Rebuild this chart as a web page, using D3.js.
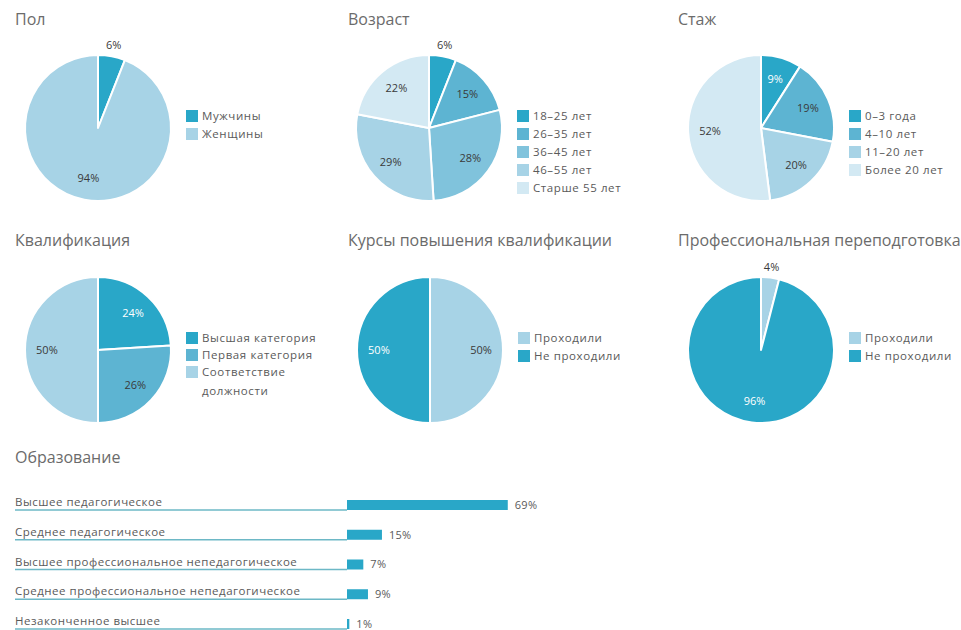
<!DOCTYPE html>
<html>
<head>
<meta charset="utf-8">
<script src="https://cdn.jsdelivr.net/npm/d3@7"></script>
<style>
  body { margin: 0; background: #fff; }
  svg { display: block; }
  text { font-family: "Open Sans", Roboto, sans-serif; }
</style>
</head>
<body>
<svg id="chart" width="961" height="630"></svg>
<script>
// ---- data ----
const genderLabels = ["Мужчины", "Женщины"];
const genderValues = [6, 94];

const ageLabels = ["18–25 лет", "26–35 лет", "36–45 лет", "46–55 лет", "Старше 55 лет"];
const ageValues = [6, 15, 28, 29, 22];

const expLabels = ["0–3 года", "4–10 лет", "11–20 лет", "Более 20 лет"];
const expValues = [9, 19, 20, 52];

const qualLabels = ["Высшая категория", "Первая категория", "Соответствие должности"];
const qualValues = [24, 26, 50];

const coursesLabels = ["Проходили", "Не проходили"];
const coursesValues = [50, 50];

const retrainLabels = ["Проходили", "Не проходили"];
const retrainValues = [4, 96];

const eduLabels = ["Высшее педагогическое", "Среднее педагогическое",
  "Высшее профессиональное непедагогическое", "Среднее профессиональное непедагогическое",
  "Незаконченное высшее"];
const eduValues = [69, 15, 7, 9, 1];

// ---- styles ----
const DARK = "#29a7c8", MED = "#5db4d2", MID = "#80c3dc", LIGHT = "#a7d3e6", PALE = "#d3e9f3";

const pies = [
  { title: "Пол", labels: genderLabels, values: genderValues, colors: [DARK, LIGHT], cx: 98, cy: 128, tx: 15, ty: 25, step: 18 },
  { title: "Возраст", labels: ageLabels, values: ageValues, colors: [DARK, MED, MID, LIGHT, PALE], cx: 429, cy: 128, tx: 348, ty: 25, step: 18 },
  { title: "Стаж", labels: expLabels, values: expValues, colors: [DARK, MED, LIGHT, PALE], cx: 761, cy: 128, tx: 678, ty: 25, step: 18 },
  { title: "Квалификация", labels: qualLabels, values: qualValues, colors: [DARK, MED, LIGHT], cx: 98, cy: 350, tx: 15, ty: 246, step: 17, wrap: true },
  { title: "Курсы повышения квалификации", labels: coursesLabels, values: coursesValues, colors: [LIGHT, DARK], cx: 430, cy: 350, tx: 348, ty: 246, step: 18 },
  { title: "Профессиональная переподготовка", labels: retrainLabels, values: retrainValues, colors: [LIGHT, DARK], cx: 761, cy: 350, tx: 678, ty: 246, step: 18 }
];

const svg = d3.select("#chart");
const R = 73;
const pieGen = d3.pie().sort(null).value(d => d);
const arc = d3.arc().innerRadius(0).outerRadius(R);
const inArc = d3.arc().innerRadius(R * 0.7).outerRadius(R * 0.7);
const outArc = d3.arc().innerRadius(R + 11).outerRadius(R + 11);

pies.forEach(p => {
  svg.append("text").attr("x", p.tx).attr("y", p.ty)
    .attr("font-size", 16).attr("fill", "#6b6b6b").text(p.title);

  const g = svg.append("g").attr("transform", `translate(${p.cx},${p.cy})`);
  const arcs = pieGen(p.values);
  g.selectAll("path").data(arcs).join("path")
    .attr("d", arc).attr("fill", (d, i) => p.colors[i])
    .attr("stroke", "#fff").attr("stroke-width", 2).attr("stroke-linejoin", "round");

  g.selectAll("text.lbl").data(arcs).join("text").attr("class", "lbl")
    .attr("transform", d => `translate(${(d.data < 7 ? outArc : inArc).centroid(d)})`)
    .attr("text-anchor", "middle").attr("dy", "0.35em")
    .attr("font-size", 11)
    .attr("fill", (d, i) => (d.data >= 7 && p.colors[i] === DARK) ? "#fff" : "#3a3a3a")
    .text(d => d.data + "%");

  // legend
  const lg = svg.append("g").attr("transform", `translate(${p.cx + 88},${p.cy - 12})`);
  p.labels.forEach((lab, i) => {
    const row = lg.append("g").attr("transform", `translate(0,${i * p.step})`);
    row.append("rect").attr("x", 0).attr("y", -6).attr("width", 12).attr("height", 12).attr("fill", p.colors[i]);
    const t = row.append("text").attr("x", 16).attr("y", 0).attr("dy", "0.35em")
      .attr("font-size", 11.5).attr("letter-spacing", 0.6).attr("fill", "#5a5a5a");
    if (p.wrap && lab.indexOf(" ") > 0 && lab.length > 18) {
      const parts = lab.split(" ");
      t.append("tspan").attr("x", 16).text(parts[0]);
      t.append("tspan").attr("x", 16).attr("dy", "1.65em").text(parts.slice(1).join(" "));
    } else {
      t.text(lab);
    }
  });
});

// ---- education bar chart ----
svg.append("text").attr("x", 15).attr("y", 463)
  .attr("font-size", 16).attr("fill", "#6b6b6b").text("Образование");

const x = d3.scaleLinear().domain([0, 100]).range([347, 580]);
const y = d3.scalePoint().domain(eduLabels).range([510, 629]);
const barH = 10;

const rows = svg.append("g").selectAll("g").data(eduLabels).join("g");
rows.append("line")
  .attr("x1", 15).attr("x2", x(0))
  .attr("y1", d => y(d)).attr("y2", d => y(d))
  .attr("stroke", "#6db8c6").attr("stroke-width", 1.5);
rows.append("text").attr("x", 15).attr("y", d => y(d) - 4)
  .attr("font-size", 11.5).attr("letter-spacing", 0.5).attr("fill", "#5a5a5a").text(d => d);
rows.append("rect")
  .attr("x", x(0)).attr("y", d => y(d) - barH)
  .attr("width", (d, i) => Math.max(2, x(eduValues[i]) - x(0)))
  .attr("height", barH).attr("fill", DARK);
rows.append("text")
  .attr("x", (d, i) => Math.max(x(0) + 2, x(eduValues[i])) + 7)
  .attr("y", d => y(d) - barH / 2).attr("dy", "0.35em")
  .attr("font-size", 11).attr("letter-spacing", 0.3).attr("fill", "#5a5a5a")
  .text((d, i) => eduValues[i] + "%");
</script>
</body>
</html>
